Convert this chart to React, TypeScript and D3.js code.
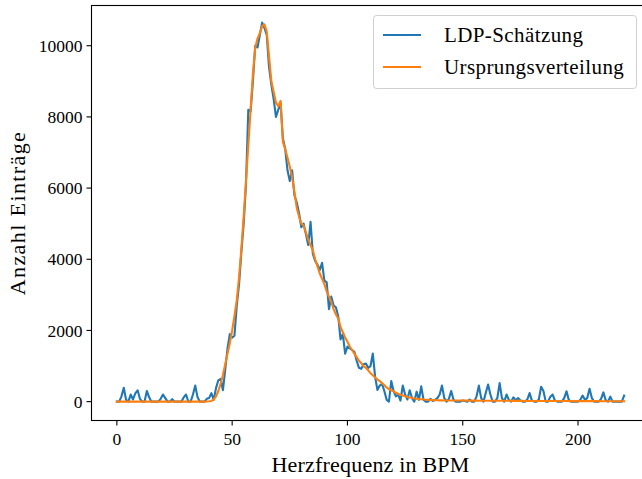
import React from "react";
import * as d3 from "d3";

const bpm: number[] = d3.range(0, 221);

const ldpEstimate: number[] = [
  0, 0, 150, 390, 50, 0, 200, 60, 230, 320,
  80, 0, 0, 300, 120, 0, 0, 0, 0, 80,
  200, 100, 0, 0, 70, 0, 0, 0, 0, 120,
  200, 0, 0, 200, 450, 120, 0, 0, 0, 80,
  100, 240, 50, 380, 600, 640, 320, 900, 1500, 1900,
  1800, 1850, 2700, 3300, 4200, 5000, 6100, 8200, 8150, 9000,
  10000, 9950, 10300, 10650, 10500, 10300, 9400, 8900, 8500, 8000,
  8200, 8400, 7400, 7100, 6500, 6200, 6500, 5800, 5600, 5300,
  4900, 5000, 4700, 4400, 5050, 4150, 3950, 3850, 3700, 3900,
  3400, 3350, 2600, 2950, 2700, 2650, 2400, 1750, 1900, 1350,
  1550, 1500, 1450, 1400, 1150, 950, 920, 1050, 1070, 950,
  1000, 1350, 700, 330, 450, 500, 300, 50, 0, 580,
  300, 150, 200, 30, 450, 200, 60, 320, 100, 0,
  280, 50, 430, 50, 0, 0, 80, 20, 50, 100,
  200, 450, 100, 0, 80, 300, 50, 0, 0, 0,
  30, 20, 0, 60, 0, 0, 150, 450, 100, 0,
  250, 480, 200, 0, 0, 100, 520, 100, 0, 200,
  50, 0, 120, 40, 100, 30, 0, 0, 60, 240,
  30, 0, 0, 60, 420, 300, 0, 0, 140, 200,
  30, 0, 0, 0, 100, 290, 50, 0, 0, 0,
  0, 50, 170, 50, 100, 360, 100, 0, 0, 0,
  80, 260, 40, 0, 140, 0, 0, 0, 0, 0,
  170,
];

const originalDist: number[] = [
  0, 0, 0, 0, 0, 0, 0, 0, 0, 0,
  0, 0, 0, 0, 0, 0, 0, 0, 0, 0,
  0, 0, 0, 0, 0, 0, 0, 0, 0, 0,
  0, 0, 0, 0, 0, 0, 0, 0, 0, 5,
  10, 20, 60, 150, 300, 500, 750, 1050, 1350, 1650,
  2000, 2400, 2850, 3500, 4300, 5200, 6200, 7200, 8200, 9200,
  9950, 10200, 10350, 10550, 10600, 10400, 9700, 9000, 8700, 8400,
  8300, 8450, 7300, 7100, 6850, 6600, 6300, 5900, 5450, 5200,
  5000, 4950, 4750, 4550, 4400, 4250, 4000, 3800, 3600, 3450,
  3300, 3100, 2950, 2800, 2600, 2450, 2340, 2100, 1950, 1800,
  1680, 1550, 1450, 1350, 1250, 1150, 1080, 1000, 950, 880,
  800, 740, 680, 620, 580, 520, 460, 400, 350, 320,
  290, 250, 220, 190, 170, 150, 130, 115, 100, 90,
  80, 70, 65, 60, 55, 50, 45, 42, 40, 38,
  35, 35, 34, 33, 33, 32, 32, 31, 31, 30,
  30, 30, 29, 29, 28, 28, 28, 27, 27, 26,
  26, 26, 25, 25, 25, 24, 24, 24, 23, 23,
  23, 22, 22, 22, 21, 21, 21, 20, 20, 20,
  20, 19, 19, 19, 18, 18, 18, 18, 17, 17,
  17, 17, 16, 16, 16, 16, 15, 15, 15, 15,
  15, 14, 14, 14, 14, 14, 13, 13, 13, 13,
  13, 12, 12, 12, 12, 12, 12, 11, 11, 11,
  11,
];

const xTicks: number[] = [0, 50, 100, 150, 200];
const yTicks: number[] = [0, 2000, 4000, 6000, 8000, 10000];
const seriesNames: string[] = ["LDP-Schätzung", "Ursprungsverteilung"];
const seriesColors: string[] = ["#1f77b4", "#ff7f0e"];

const W = 642;
const H = 479;
const FONT = "'Liberation Serif', 'DejaVu Serif', serif";

export default function App() {
  const left = 91.5;
  const right = 649.5;
  const top = 5.5;
  const bottom = 420.5;

  const x = d3.scaleLinear().domain([-11, 231]).range([left, right]);
  const y = d3.scaleLinear().domain([-530, 11130]).range([bottom, top]);

  const line = d3
    .line<number>()
    .x((_, i) => x(bpm[i]))
    .y((d) => y(d));

  const series = [ldpEstimate, originalDist];

  return (
    <svg
      width={W}
      height={H}
      style={{ position: "absolute", left: 0, top: 0, background: "#fff" }}
      fontFamily={FONT}
    >
      <rect x={0} y={0} width={W} height={H} fill="#fff" />
      <defs>
        <clipPath id="plotclip">
          <rect x={left} y={top} width={right - left} height={bottom - top} />
        </clipPath>
      </defs>
      <g clipPath="url(#plotclip)">
        {series.map((s, k) => (
          <path
            key={k}
            d={line(s) || ""}
            fill="none"
            stroke={seriesColors[k]}
            strokeWidth={2.1}
            strokeLinejoin="round"
            strokeLinecap="square"
          />
        ))}
      </g>
      <rect
        x={left}
        y={top}
        width={right - left}
        height={bottom - top}
        fill="none"
        stroke="#000"
        strokeWidth={1.1}
      />
      {xTicks.map((t) => (
        <g key={"x" + t} transform={`translate(${x(t)},${bottom})`}>
          <line y1={0} y2={5} stroke="#000" strokeWidth={1.1} />
          <text y={24} textAnchor="middle" fontSize={17.5} fill="#000">
            {t}
          </text>
        </g>
      ))}
      {yTicks.map((t) => (
        <g key={"y" + t} transform={`translate(${left},${y(t)})`}>
          <line x1={0} x2={-5} stroke="#000" strokeWidth={1.1} />
          <text x={-9} dy="0.35em" textAnchor="end" fontSize={17.5} fill="#000">
            {t}
          </text>
        </g>
      ))}
      <text
        x={(left + right) / 2}
        y={472}
        textAnchor="middle"
        fontSize={22}
        letterSpacing={0.2}
        fill="#000"
      >
        Herzfrequenz in BPM
      </text>
      <text
        transform={`translate(25,${(top + bottom) / 2}) rotate(-90)`}
        textAnchor="middle"
        fontSize={22}
        letterSpacing={1.4}
        fill="#000"
      >
        Anzahl Einträge
      </text>
      <g>
        <rect
          x={373.5}
          y={15.5}
          width={263}
          height={73}
          rx={3}
          fill="#fff"
          fillOpacity={0.8}
          stroke="#d0d0d0"
          strokeWidth={1}
        />
        {seriesNames.map((n, i) => (
          <g key={n} transform={`translate(383,${35 + i * 32})`}>
            <line x1={0} x2={38} stroke={seriesColors[i]} strokeWidth={2.1} />
            <text x={61} dy="0.35em" fontSize={21} letterSpacing={0.4} fill="#000">
              {n}
            </text>
          </g>
        ))}
      </g>
    </svg>
  );
}
